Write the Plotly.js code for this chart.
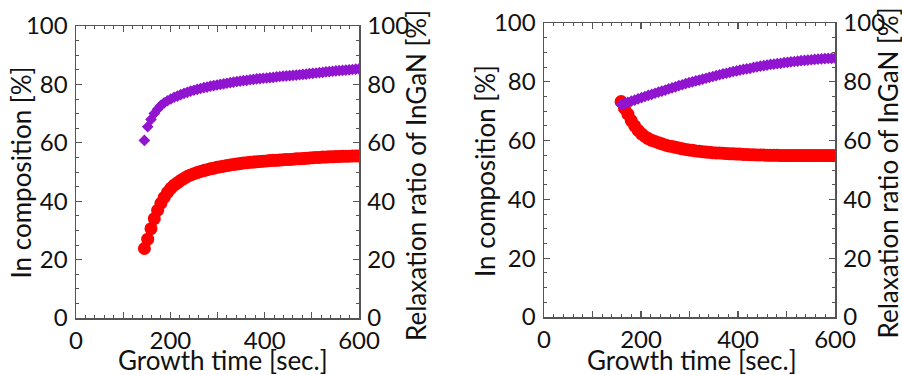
<!DOCTYPE html>
<html>
<head>
<meta charset="utf-8">
<script src="https://cdn.plot.ly/plotly-3.0.1.min.js"></script>
<style>html,body{margin:0;padding:0;background:#fff;}#chart{width:902px;height:375px;}</style>
</head>
<body>
<div id="chart"></div>
<script>
// Left panel: growth time [sec.]
const timeA = [145,152,159,166,173,180,187,194,201,208,215,222,229,236,243,250,257,264,271,278,285,292,299,306,313,320,327,334,341,348,355,362,369,376,383,390,397,404,411,418,425,432,439,446,453,460,467,474,481,488,495,502,509,516,523,530,537,544,551,558,565,572,579,586,593,600];
const inCompA = [23.8,27.0,30.6,34.0,36.9,39.3,41.3,43.0,44.4,45.5,46.3,47.1,47.8,48.5,49.0,49.4,49.8,50.2,50.5,50.8,51.1,51.3,51.6,51.8,52.0,52.2,52.4,52.6,52.7,52.9,53.1,53.2,53.3,53.4,53.5,53.6,53.7,53.8,53.9,54.0,54.0,54.1,54.2,54.3,54.3,54.4,54.5,54.5,54.6,54.7,54.8,54.9,55.0,55.0,55.1,55.1,55.2,55.2,55.3,55.3,55.4,55.4,55.4,55.5,55.5,55.5];
const relaxA = [60.8,65.5,68.0,70.0,71.5,72.8,73.7,74.4,75.0,75.6,76.0,76.5,76.9,77.3,77.7,78.0,78.3,78.6,78.9,79.1,79.4,79.6,79.8,80.0,80.2,80.4,80.6,80.8,81.0,81.1,81.3,81.4,81.6,81.7,81.9,82.0,82.1,82.2,82.3,82.4,82.6,82.7,82.8,82.9,83.0,83.1,83.2,83.3,83.4,83.5,83.7,83.8,83.9,84.0,84.1,84.3,84.4,84.5,84.6,84.7,84.8,84.9,85.0,85.1,85.2,85.3];

// Right panel
const timeB = [159,166,173,180,187,194,201,208,215,222,229,236,243,250,257,264,271,278,285,292,299,306,313,320,327,334,341,348,355,362,369,376,383,390,397,404,411,418,425,432,439,446,453,460,467,474,481,488,495,502,509,516,523,530,537,544,551,558,565,572,579,586,593,600];
const inCompB = [73.3,71.0,69.0,66.8,65.0,63.5,62.3,61.4,60.7,60.1,59.7,59.3,58.9,58.5,58.2,58.0,57.7,57.5,57.2,57.0,56.8,56.7,56.5,56.4,56.2,56.1,56.0,55.9,55.8,55.8,55.7,55.6,55.5,55.5,55.4,55.4,55.3,55.3,55.2,55.2,55.1,55.1,55.1,55.0,55.0,55.0,55.0,54.9,54.9,54.9,54.9,54.9,54.9,54.9,54.9,54.9,54.9,54.9,54.9,54.9,54.9,54.9,54.9,54.9];
const relaxB = [72.3,72.6,73.0,73.4,73.8,74.2,74.6,75.0,75.4,75.7,76.1,76.5,76.8,77.2,77.6,77.9,78.3,78.7,79.0,79.4,79.7,80.0,80.3,80.6,80.9,81.2,81.5,81.8,82.1,82.4,82.7,82.9,83.2,83.5,83.7,84.0,84.2,84.4,84.6,84.9,85.1,85.3,85.5,85.7,85.9,86.0,86.2,86.3,86.5,86.6,86.8,86.9,87.0,87.2,87.3,87.4,87.5,87.6,87.7,87.8,87.9,88.0,88.0,88.1];

const xTickVals = [0,100,200,300,400,500,600];
const xTickText = ['0','','200','','400','','600'];
const yTickVals = [0,20,40,60,80,100];

const xTitle = 'Growth time [sec.]';
const yLeftTitle = 'In composition [%]';
const yRightTitle = 'Relaxation ratio of InGaN [%]';

const RED = '#ff0000';
const PURPLE = '#9014d0';
const AX = '#555555';
const FONT = 'Lato, "Open Sans", sans-serif';

const traces = [
  {x: timeA, y: inCompA, xaxis: 'x', yaxis: 'y', mode: 'markers', type: 'scatter',
   marker: {symbol: 'circle', size: 13, color: RED, line: {width: 0}}},
  {x: timeA, y: relaxA, xaxis: 'x', yaxis: 'y3', mode: 'markers', type: 'scatter',
   marker: {symbol: 'diamond', size: 9, color: PURPLE, line: {width: 0}}},
  {x: timeB, y: inCompB, xaxis: 'x2', yaxis: 'y2', mode: 'markers', type: 'scatter',
   marker: {symbol: 'circle', size: 13, color: RED, line: {width: 0}}},
  {x: timeB, y: relaxB, xaxis: 'x2', yaxis: 'y4', mode: 'markers', type: 'scatter',
   marker: {symbol: 'diamond', size: 9, color: PURPLE, line: {width: 0}}}
];

function xAxis(domain, anchor) {
  return {
    domain: domain, anchor: anchor, range: [0, 600],
    tickmode: 'array', tickvals: xTickVals, ticktext: xTickText,
    ticks: 'inside', ticklen: 6, tickwidth: 1.2, tickcolor: AX,
    minor: {dtick: 20, tick0: 0, ticks: 'inside', ticklen: 3, tickwidth: 1, tickcolor: AX},
    showline: true, linecolor: AX, linewidth: 1.5, mirror: 'ticks',
    showgrid: false, zeroline: false, ticklabelstandoff: 1,
    tickfont: {family: FONT, size: 24, color: '#111'}
  };
}
function yAxis(domain, anchor, side, overlay) {
  const a = {
    domain: domain, anchor: anchor, range: [0, 100], side: side,
    tickmode: 'array', tickvals: yTickVals,
    ticks: 'inside', ticklen: 6, tickwidth: 1.2, tickcolor: AX,
    minor: {dtick: 5, tick0: 0, ticks: 'inside', ticklen: 3, tickwidth: 1, tickcolor: AX},
    showline: true, linecolor: AX, linewidth: 1.5,
    showgrid: false, zeroline: false, ticklabelstandoff: 2,
    tickfont: {family: FONT, size: 24, color: '#111'}
  };
  if (overlay) a.overlaying = overlay;
  return a;
}

const W = 902, H = 375;
const dxA = [76 / W, 359 / W], dyA = [1 - 318 / H, 1 - 26 / H];
const dxB = [544 / W, 835 / W], dyB = [1 - 317 / H, 1 - 23 / H];

function ann(text, px, py, angle) {
  return {text: text, xref: 'paper', yref: 'paper', x: px / W, y: 1 - py / H,
    xanchor: 'center', yanchor: 'middle', showarrow: false, textangle: angle,
    font: {family: FONT, size: 26, color: '#111'}};
}

const layout = {
  width: W, height: H, margin: {l: 0, r: 0, t: 0, b: 0},
  paper_bgcolor: '#fff', plot_bgcolor: '#fff', showlegend: false,
  xaxis: xAxis(dxA, 'y'),
  yaxis: yAxis(dyA, 'x', 'left'),
  yaxis3: yAxis(dyA, 'x', 'right', 'y'),
  xaxis2: xAxis(dxB, 'y2'),
  yaxis2: yAxis(dyB, 'x2', 'left'),
  yaxis4: yAxis(dyB, 'x2', 'right', 'y2'),
  annotations: [
    ann(xTitle, 222.5, 360, 0),
    ann(yLeftTitle, 20, 172.5, -90),
    ann(yRightTitle, 416, 176, -90),
    ann(xTitle, 691.5, 360, 0),
    ann(yLeftTitle, 485, 171, -90),
    ann(yRightTitle, 887, 173.5, -90)
  ]
};

Plotly.newPlot('chart', traces, layout, {displayModeBar: false, staticPlot: true});
</script>
</body>
</html>
